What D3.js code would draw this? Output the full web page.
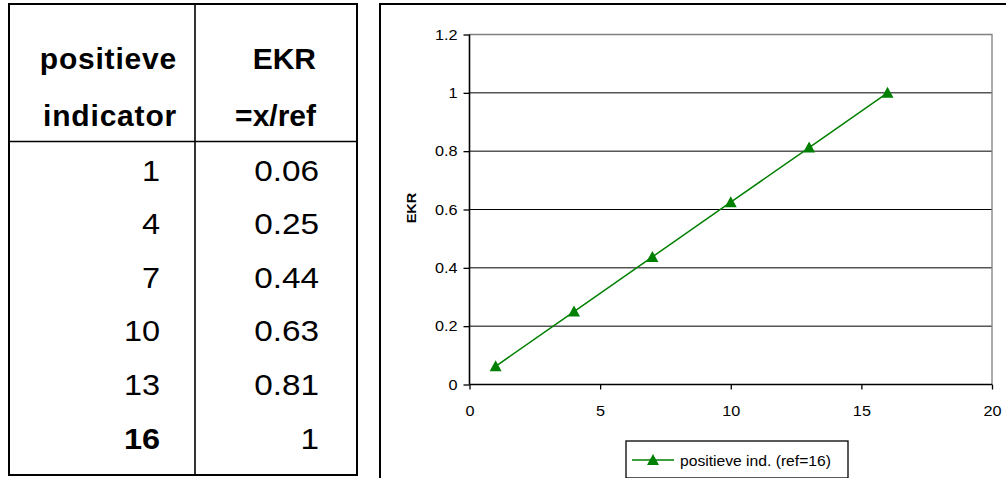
<!DOCTYPE html>
<html>
<head>
<meta charset="utf-8">
<script src="https://cdn.jsdelivr.net/npm/d3@7"></script>
<style>
  html, body { margin: 0; padding: 0; background: #fff; }
  svg { display: block; font-family: Arial, "Liberation Sans", sans-serif; }
</style>
</head>
<body>
<svg id="chart" width="1006" height="478"></svg>
<script>
// Positive indicator values and their ratio to the reference (x / ref)
const indicator = [1, 4, 7, 10, 13, 16];
const ref = 16;
const ekr = [0.0625, 0.25, 0.4375, 0.625, 0.8125, 1];
const headerCol1 = ["positieve", "indicator"];
const headerCol2 = ["EKR", "=x/ref"];
const xTicks = [0, 5, 10, 15, 20];
const yTicks = [0, 0.2, 0.4, 0.6, 0.8, 1, 1.2];
const yTitle = "EKR";
const legendLabel = "positieve ind. (ref=16)";

const green = "#008000";
const svg = d3.select("#chart");
const fmt = d3.format(".2~f");

// text drawn with an optional horizontal stretch and letter spacing
function stretchText(parent, x, y, str, opts) {
  const g = parent.append("g").attr("transform", `translate(${x},${y})` + (opts.rotate ? ` rotate(${opts.rotate})` : ""));
  const t = g.append("text")
    .attr("transform", `scale(${opts.sx || 1},1)`)
    .attr("text-anchor", opts.anchor || "start")
    .attr("font-size", opts.size)
    .attr("font-weight", opts.weight || "normal")
    .attr("fill", "#000")
    .text(str);
  if (opts.spacing) t.attr("letter-spacing", opts.spacing);
  return t;
}

/* ---------- table ---------- */
const table = svg.append("g");
table.append("rect")
  .attr("x", 9).attr("y", 4).attr("width", 348).attr("height", 471)
  .attr("fill", "none").attr("stroke", "#000").attr("stroke-width", 2);
table.append("line").attr("x1", 195).attr("x2", 195).attr("y1", 4).attr("y2", 475)
  .attr("stroke", "#000").attr("stroke-width", 1.6);
table.append("line").attr("x1", 9).attr("x2", 357).attr("y1", 141.5).attr("y2", 141.5)
  .attr("stroke", "#000").attr("stroke-width", 1.6);

const headerBase = [69, 125.5];
headerCol1.forEach((t, i) => stretchText(table, 177, headerBase[i], t, {size: 30, weight: "bold", anchor: "end", spacing: 0.8}));
headerCol2.forEach((t, i) => stretchText(table, 316, headerBase[i], t, {size: 30, weight: "bold", anchor: "end"}));

const rowY = d3.scalePoint().domain(d3.range(indicator.length)).range([180.5, 448.5]);
indicator.forEach((v, i) => {
  const last = i === indicator.length - 1;
  stretchText(table, 160, rowY(i), String(v), {size: 29.5, weight: last ? "bold" : "normal", anchor: "end", sx: 1.1});
  stretchText(table, 319, rowY(i), fmt(ekr[i]), {size: 29.5, anchor: "end", sx: 1.13});
});

/* ---------- chart panel ---------- */
svg.append("rect")
  .attr("x", 380).attr("y", 4).attr("width", 640).attr("height", 490)
  .attr("fill", "none").attr("stroke", "#000").attr("stroke-width", 2);

const x = d3.scaleLinear().domain([0, 20]).range([469.5, 992]);
const y = d3.scaleLinear().domain([0, 1.2]).range([384.5, 34.5]);

const plot = svg.append("g");
// horizontal gridlines
plot.selectAll("line.grid").data(yTicks.filter(d => d > 0 && d < 1.2)).join("line")
  .attr("class", "grid")
  .attr("x1", x(0)).attr("x2", x(20))
  .attr("y1", d => y(d)).attr("y2", d => y(d))
  .attr("stroke", "#000").attr("stroke-width", 1);
// plot area top and right border
plot.append("path")
  .attr("d", `M${x(0)},${y(1.2)}H${x(20)}V${y(0)}`)
  .attr("fill", "none").attr("stroke", "#808080").attr("stroke-width", 1.3);

const sxTick = 1.12;
const yAxis = plot.append("g").attr("transform", `translate(${x(0)},0)`)
  .call(d3.axisLeft(y).tickValues(yTicks).tickSize(6).tickPadding(6).tickFormat(d3.format("~g")));
const xAxis = plot.append("g").attr("transform", `translate(0,${y(0)})`)
  .call(d3.axisBottom(x).tickValues(xTicks).tickSize(5).tickPadding(16).tickFormat(d3.format("d")));
[yAxis, xAxis].forEach(ax => {
  ax.select(".domain").attr("stroke", "#000").attr("stroke-width", 1.6);
  ax.selectAll(".tick line").attr("stroke", "#000").attr("stroke-width", 1.3);
  ax.selectAll(".tick text").each(function () {
    const t = d3.select(this);
    const tx = +t.attr("x") || 0, ty = +t.attr("y") || 0;
    t.attr("x", null).attr("y", null)
      .attr("transform", `translate(${tx},${ty}) scale(${sxTick},1)`);
  });
  ax.attr("font-family", "Arial, 'Liberation Sans', sans-serif").attr("font-size", 14.5);
  ax.selectAll(".tick text").attr("fill", "#000");
});
yAxis.select(".domain").attr("d", `M0,${y(1.2)}V${y(0)}`);
xAxis.select(".domain").attr("d", `M${x(0)},0H${x(20)}`);

stretchText(svg, 416, 208, yTitle, {size: 13, weight: "bold", anchor: "middle", rotate: -90, sx: 1.12});

// series line and triangle markers
const pts = indicator.map((v, i) => [v, ekr[i]]);
plot.append("path")
  .attr("d", d3.line().x(d => x(d[0])).y(d => y(d[1]))(pts))
  .attr("fill", "none").attr("stroke", green).attr("stroke-width", 1.5);

const tri = "M0,-6L6,5L-6,5Z";
plot.selectAll("path.marker").data(pts).join("path")
  .attr("class", "marker")
  .attr("d", tri)
  .attr("transform", d => `translate(${x(d[0])},${y(d[1])})`)
  .attr("fill", green);

/* ---------- legend ---------- */
const legend = svg.append("g");
legend.append("rect")
  .attr("x", 626).attr("y", 441).attr("width", 222).attr("height", 37)
  .attr("fill", "#fff").attr("stroke", "#000").attr("stroke-width", 1.3);
legend.append("line").attr("x1", 632).attr("x2", 674).attr("y1", 460).attr("y2", 460)
  .attr("stroke", green).attr("stroke-width", 1.5);
legend.append("path").attr("d", tri).attr("transform", "translate(653,460)").attr("fill", green);
stretchText(legend, 680, 465.5, legendLabel, {size: 14.5, sx: 1.08});
</script>
</body>
</html>
